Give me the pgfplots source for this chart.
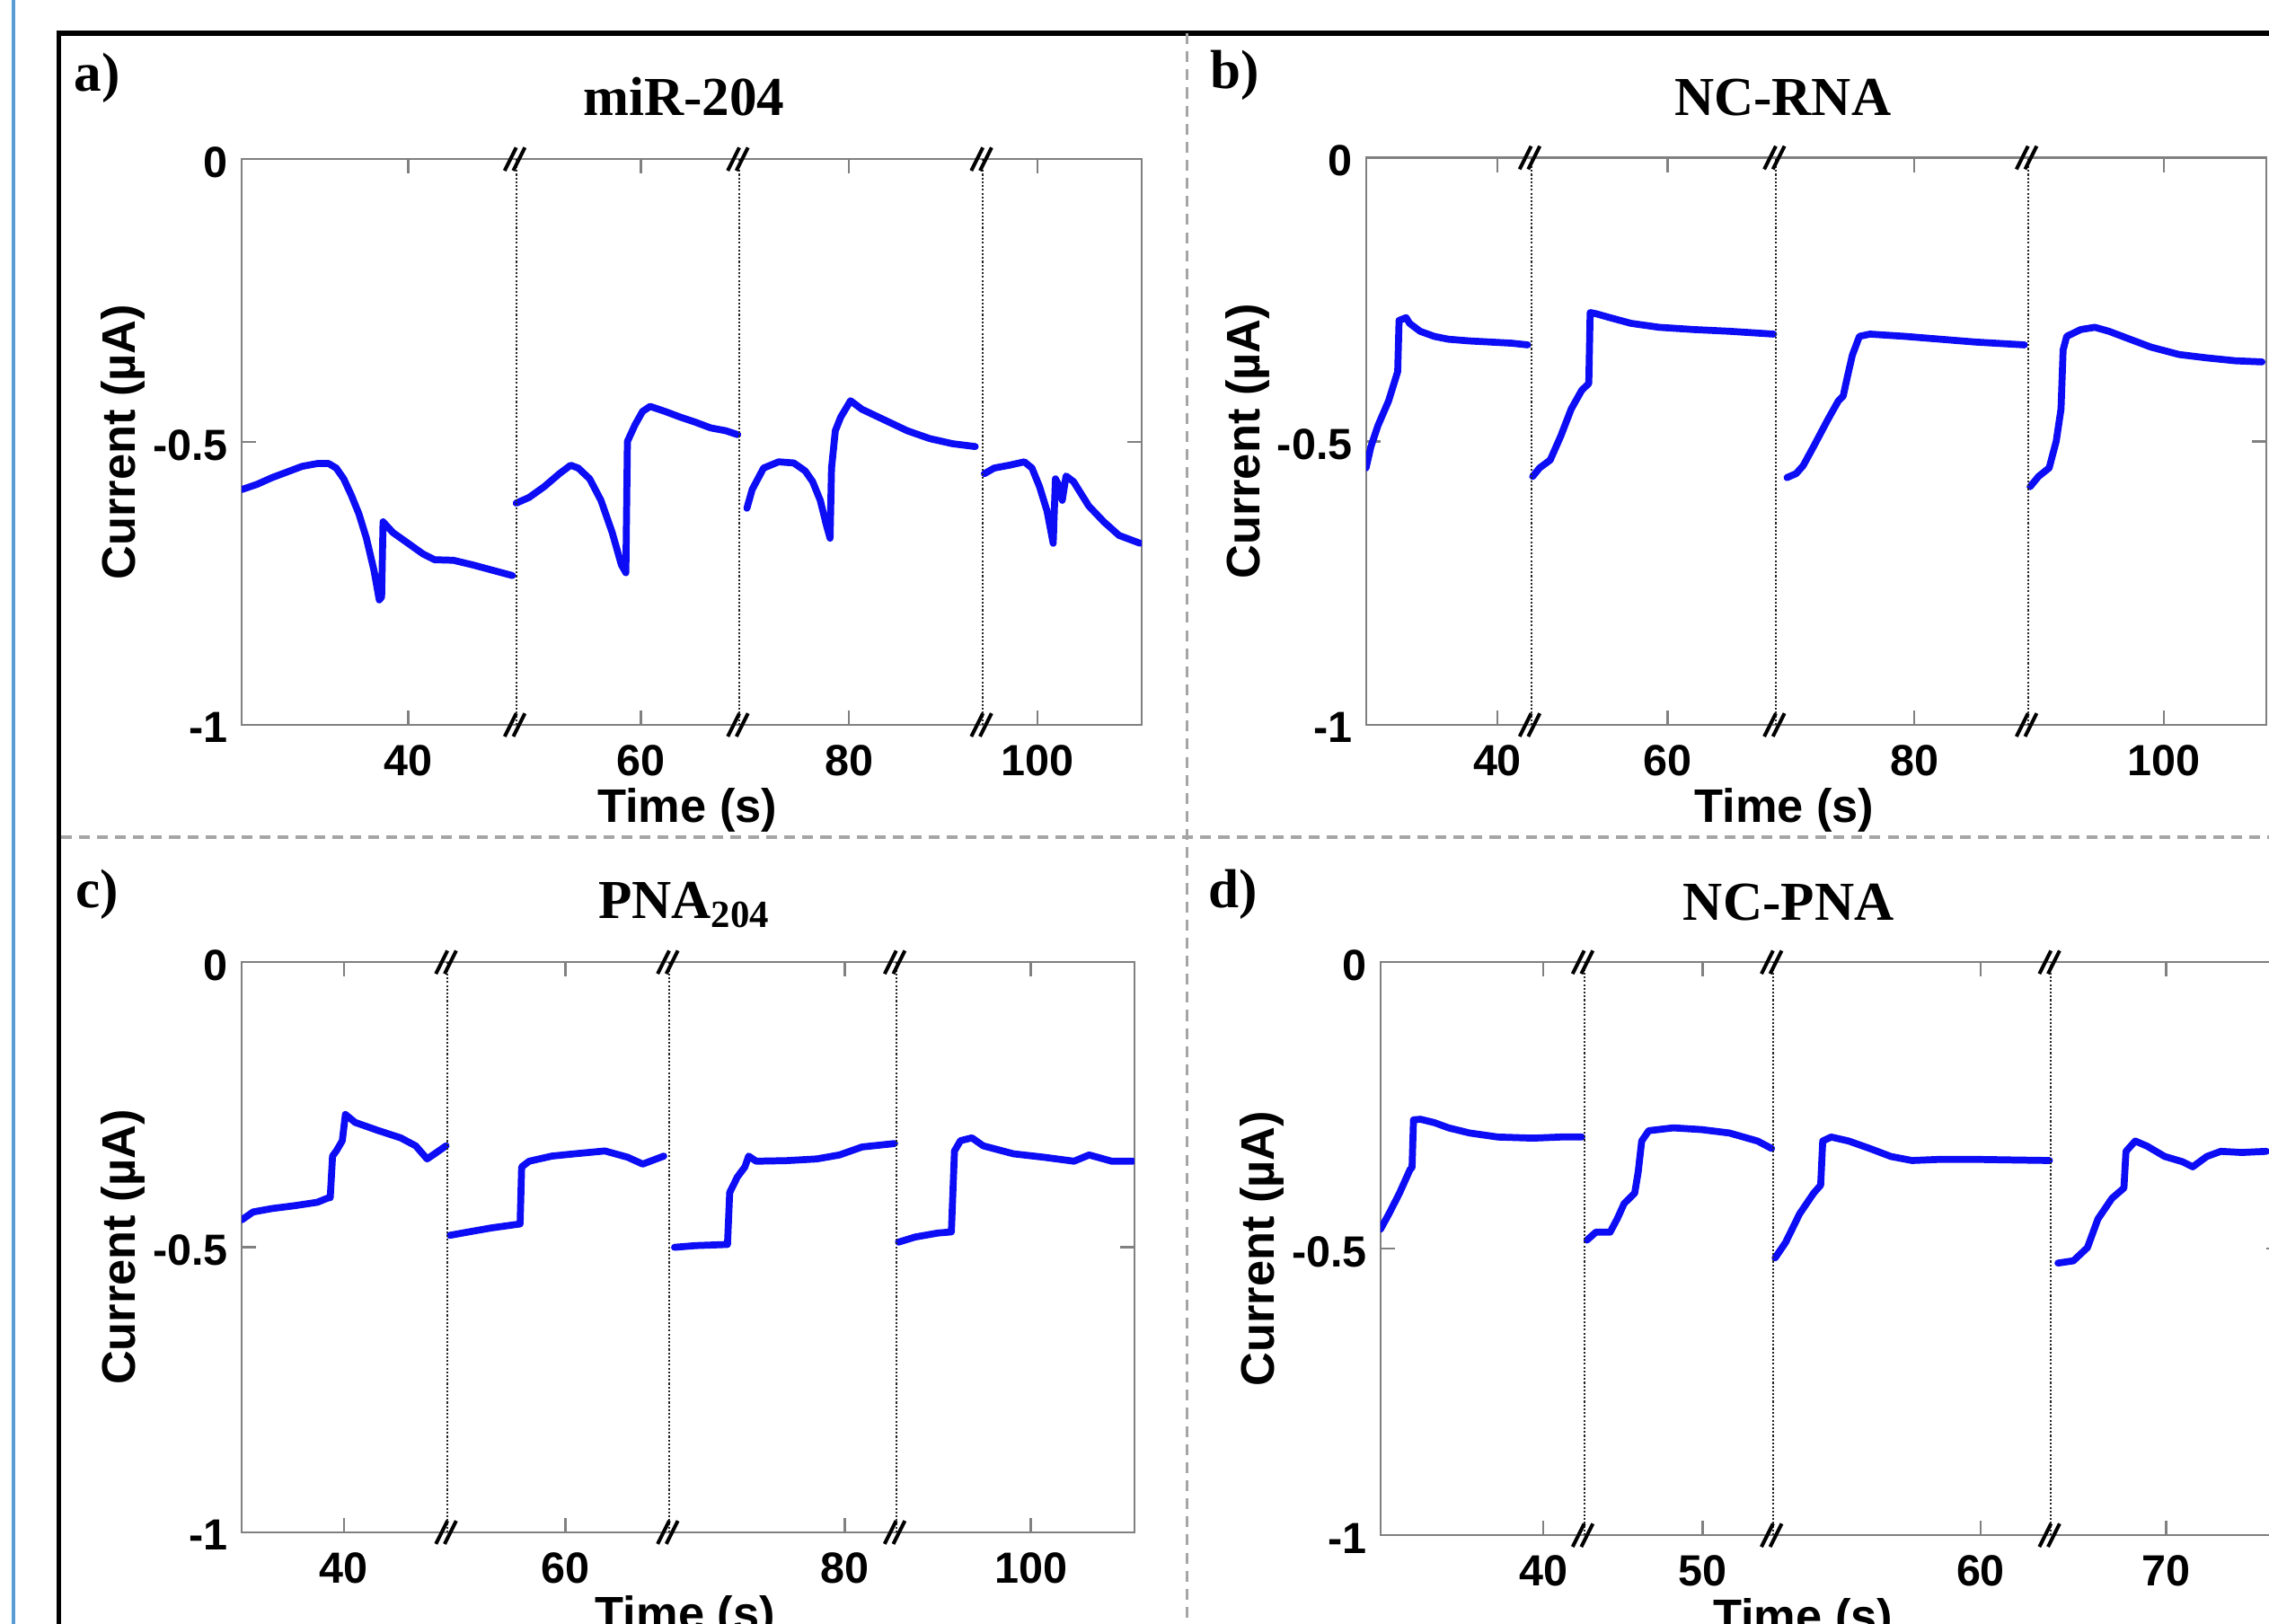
\documentclass[border=0pt]{standalone}
\usepackage{pgfplots}
\pgfplotsset{compat=1.18}
\usepackage{fontspec}
\setmainfont{Liberation Serif}
\setsansfont{Liberation Sans}

\newlength\px
\setlength\px{0.1611mm}
\definecolor{trace}{RGB}{12,12,245}
\definecolor{framegray}{RGB}{128,128,128}
\definecolor{divgray}{RGB}{165,165,165}
\definecolor{slideblue}{RGB}{91,155,213}

\newcommand\tickfont{\sffamily\bfseries\fontsize{13.8}{16}\selectfont}
\newcommand\labfont{\sffamily\bfseries\fontsize{14.9}{18}\selectfont}
\newcommand\ttlfont{\rmfamily\bfseries\fontsize{17.4}{20}\selectfont}

\pgfplotsset{
  panel/.style={
    scale only axis, anchor=south west, clip mode=individual,
    ymin=-1, ymax=0, ytick={-1,-0.5,0}, yticklabels={-1,-0.5,0},
    axis line style={draw=framegray, line width=0.7pt},
    tick style={draw=framegray, line width=0.7pt},
    major tick length=10\px, tick align=inside,
    ticklabel style={font=\tickfont},
    xticklabel style={inner sep=0pt, yshift=-13.5\px},
    yticklabel style={inner sep=0pt, xshift=-9\px, yshift=-2\px},
    xlabel={Time (s)}, ylabel={Current (µA)},
    label style={font=\labfont},
    ylabel style={at={(axis description cs:0,0.5)}, anchor=center, yshift=82\px},
    xlabel style={at={(axis description cs:0.5,0)}, anchor=center, yshift=-59\px},
  },
  seg/.style={trace, line width=2.2pt, line join=round, line cap=round, mark=none},
}

% axis break: dotted line plus // marks at top and bottom
\newcommand\brk[1]{%
  \draw[black!85, line width=0.6pt, dash pattern=on 0.6pt off 0.6pt] (axis cs:#1,-1) -- (axis cs:#1,0);
  \draw[black, line width=2.5\px] ([shift={(-8\px,-8\px)}]axis cs:#1,0) -- ++(8\px,16\px);
  \draw[black, line width=2.5\px] ([shift={(-2\px,-8\px)}]axis cs:#1,0) -- ++(8\px,16\px);
  \draw[black, line width=2.5\px] ([shift={(-8\px,-8\px)}]axis cs:#1,-1) -- ++(8\px,16\px);
  \draw[black, line width=2.5\px] ([shift={(-2\px,-8\px)}]axis cs:#1,-1) -- ++(8\px,16\px);
}

\begin{document}
\begin{tikzpicture}[x=\px, y=\px]
\useasboundingbox (0,0) rectangle (1568,1122);
\clip (0,0) rectangle (1568,1122);

% frame and dividers
\draw[slideblue, line width=3\px] (9.3,-5) -- (9.3,1130);
\draw[black, line width=3.5\px] (40.6,-5) |- (1580,1099.2);
\draw[divgray, line width=2\px, dash pattern=on 7.5\px off 5\px] (820.5,1099) -- (820.5,-5);
\draw[divgray, line width=2\px, dash pattern=on 7.5\px off 5\px] (42,543.5) -- (1580,543.5);

% panel letters and titles
\node[anchor=base west, font=\ttlfont, inner sep=0pt] at (51,1059) {a)};
\node[anchor=base west, font=\ttlfont, inner sep=0pt] at (836,1061) {b)};
\node[anchor=base west, font=\ttlfont, inner sep=0pt] at (52,495) {c)};
\node[anchor=base west, font=\ttlfont, inner sep=0pt] at (835,495) {d)};
\node[anchor=base, font=\ttlfont, inner sep=0pt] at (472.5,1042) {miR-204};
\node[anchor=base, font=\ttlfont, inner sep=0pt] at (1232,1042) {NC-RNA};
\node[anchor=base, font=\ttlfont, inner sep=0pt] at (473,487) {PNA\textsubscript{204}};
\node[anchor=base, font=\ttlfont, inner sep=0pt] at (1236,486) {NC-PNA};

% a) miR-204
\begin{axis}[panel, at={(167\px,621\px)}, width=622\px, height=391\px,
  xmin=25.06, xmax=105.58,
  xtick={39.95,60.78,79.39,96.24}, xticklabels={40,60,80,100},
  xlabel style={xshift=-3\px}]
\addplot[seg] coordinates {(25.06,-0.584) (26.41,-0.575) (27.77,-0.563) (29.12,-0.553) (30.47,-0.543) (31.83,-0.538) (32.84,-0.538) (33.52,-0.546) (34.19,-0.565) (34.87,-0.594) (35.55,-0.627) (36.22,-0.670) (36.90,-0.727) (37.37,-0.779) (37.58,-0.774) (37.71,-0.641) (38.59,-0.660) (39.95,-0.679) (41.30,-0.698) (42.31,-0.708) (44.00,-0.709) (45.70,-0.717) (47.39,-0.726) (49.28,-0.736)};
\addplot[seg] coordinates {(49.62,-0.608) (50.77,-0.598) (52.12,-0.579) (53.48,-0.556) (54.49,-0.541) (55.17,-0.546) (56.19,-0.565) (57.20,-0.603) (58.21,-0.660) (59.03,-0.717) (59.43,-0.731) (59.57,-0.499) (60.24,-0.470) (60.92,-0.446) (61.60,-0.437) (62.95,-0.446) (64.30,-0.456) (65.66,-0.465) (67.01,-0.475) (68.36,-0.480) (69.44,-0.487)};
\addplot[seg] coordinates {(70.26,-0.617) (70.73,-0.584) (71.75,-0.546) (73.10,-0.535) (74.45,-0.537) (75.47,-0.551) (76.14,-0.570) (76.82,-0.603) (77.36,-0.646) (77.70,-0.670) (77.83,-0.546) (78.17,-0.480) (78.65,-0.456) (79.53,-0.427) (80.54,-0.442) (82.57,-0.461) (84.60,-0.480) (86.63,-0.494) (88.66,-0.503) (90.69,-0.508)};
\addplot[seg] coordinates {(91.50,-0.556) (92.38,-0.546) (93.73,-0.541) (95.08,-0.535) (95.76,-0.546) (96.44,-0.579) (97.11,-0.622) (97.66,-0.679) (97.86,-0.565) (98.13,-0.575) (98.47,-0.603) (98.81,-0.560) (99.48,-0.570) (100.84,-0.613) (102.19,-0.641) (103.55,-0.665) (105.44,-0.679)};
\brk{49.62}\brk{69.58}\brk{91.37}
\end{axis}

% b) NC-RNA
\begin{axis}[panel, at={(944\px,621\px)}, width=622\px, height=392\px,
  xmin=35.68, xmax=108.45,
  xtick={46.30,60.05,80,100.17}, xticklabels={40,60,80,100},
  xlabel style={xshift=-22\px}]
\addplot[seg] coordinates {(35.68,-0.547) (36.08,-0.509) (36.65,-0.472) (37.50,-0.429) (38.24,-0.377) (38.35,-0.287) (38.92,-0.282) (39.20,-0.292) (40.05,-0.306) (41.19,-0.315) (42.33,-0.320) (44.03,-0.323) (45.74,-0.325) (47.44,-0.327) (48.75,-0.330)};
\addplot[seg] coordinates {(49.15,-0.562) (49.71,-0.547) (50.57,-0.533) (51.42,-0.491) (52.27,-0.443) (53.12,-0.410) (53.69,-0.398) (53.80,-0.273) (54.26,-0.275) (55.40,-0.282) (57.10,-0.292) (59.37,-0.299) (62.21,-0.303) (65.05,-0.306) (68.63,-0.311)};
\addplot[seg] coordinates {(69.71,-0.564) (70.45,-0.557) (71.02,-0.543) (71.87,-0.509) (73.01,-0.462) (73.86,-0.429) (74.26,-0.420) (74.60,-0.386) (75.00,-0.348) (75.57,-0.315) (76.42,-0.311) (79.26,-0.315) (82.10,-0.320) (84.94,-0.325) (88.92,-0.330)};
\addplot[seg] coordinates {(89.37,-0.580) (90.05,-0.562) (90.91,-0.547) (91.48,-0.500) (91.87,-0.443) (92.04,-0.339) (92.33,-0.315) (93.46,-0.303) (94.60,-0.299) (95.74,-0.306) (97.44,-0.320) (99.15,-0.334) (101.42,-0.347) (103.69,-0.353) (105.96,-0.358) (108.12,-0.360)};
\brk{49.03}\brk{68.81}\brk{89.20}
\end{axis}

% c) PNA204
\begin{axis}[panel, at={(167\px,63\px)}, width=617\px, height=394\px,
  xmin=30.78, xmax=111.33,
  xtick={40,60,85.19,101.98}, xticklabels={40,60,80,100},
  xlabel style={xshift=-2\px}]
\addplot[seg] coordinates {(30.78,-0.452) (31.81,-0.438) (33.52,-0.432) (35.56,-0.427) (37.61,-0.421) (38.63,-0.413) (38.77,-0.413) (38.98,-0.340) (39.32,-0.331) (39.86,-0.313) (40.14,-0.267) (41.02,-0.281) (43.07,-0.295) (45.12,-0.308) (46.48,-0.322) (47.51,-0.345) (48.19,-0.336) (49.22,-0.322)};
\addplot[seg] coordinates {(49.56,-0.479) (51.26,-0.473) (53.31,-0.466) (55.90,-0.459) (56.04,-0.359) (56.72,-0.349) (58.77,-0.340) (60.82,-0.336) (63.55,-0.331) (65.60,-0.342) (66.96,-0.354) (68.87,-0.340)};
\addplot[seg] coordinates {(69.83,-0.500) (71.74,-0.497) (74.61,-0.495) (74.81,-0.404) (75.49,-0.377) (76.18,-0.359) (76.52,-0.340) (77.20,-0.349) (79.93,-0.348) (82.66,-0.345) (84.71,-0.338) (86.76,-0.324) (89.69,-0.318)};
\addplot[seg] coordinates {(90.03,-0.491) (91.54,-0.482) (93.58,-0.475) (94.81,-0.473) (95.09,-0.331) (95.63,-0.313) (96.66,-0.308) (97.68,-0.322) (100.41,-0.336) (103.14,-0.342) (105.87,-0.349) (107.24,-0.338) (109.28,-0.349) (111.19,-0.349)};
\brk{49.35}\brk{69.35}\brk{89.83}
\end{axis}

% d) NC-PNA
\begin{axis}[panel, at={(954\px,61\px)}, width=622\px, height=396\px,
  xmin=29.78, xmax=86.26,
  xtick={40,50,67.44,79.07}, xticklabels={40,50,60,70},
  xlabel style={xshift=-19\px}]
\addplot[seg] coordinates {(29.78,-0.466) (30.31,-0.439) (30.97,-0.403) (31.63,-0.362) (31.76,-0.358) (31.85,-0.275) (32.29,-0.274) (33.17,-0.280) (34.05,-0.289) (35.37,-0.298) (37.14,-0.305) (39.34,-0.307) (41.10,-0.305) (42.42,-0.305)};
\addplot[seg] coordinates {(42.73,-0.485) (43.30,-0.471) (44.19,-0.471) (44.63,-0.448) (45.07,-0.421) (45.73,-0.403) (45.95,-0.366) (46.17,-0.312) (46.61,-0.294) (48.15,-0.289) (49.91,-0.292) (51.67,-0.298) (53.44,-0.312) (54.32,-0.325)};
\addplot[seg] coordinates {(54.54,-0.516) (55.20,-0.489) (56.08,-0.439) (56.96,-0.403) (57.40,-0.389) (57.53,-0.312) (58.06,-0.305) (59.16,-0.312) (60.48,-0.325) (61.81,-0.339) (63.13,-0.346) (64.89,-0.344) (67.09,-0.344) (69.30,-0.345) (71.76,-0.346)};
\addplot[seg] coordinates {(72.29,-0.525) (73.26,-0.521) (74.14,-0.498) (74.80,-0.448) (75.68,-0.412) (76.43,-0.394) (76.56,-0.330) (77.14,-0.312) (77.89,-0.321) (78.99,-0.339) (80.09,-0.348) (80.75,-0.357) (81.63,-0.339) (82.51,-0.330) (83.83,-0.332) (85.37,-0.330)};
\brk{42.56}\brk{54.41}\brk{71.85}
\end{axis}
\end{tikzpicture}
\end{document}
